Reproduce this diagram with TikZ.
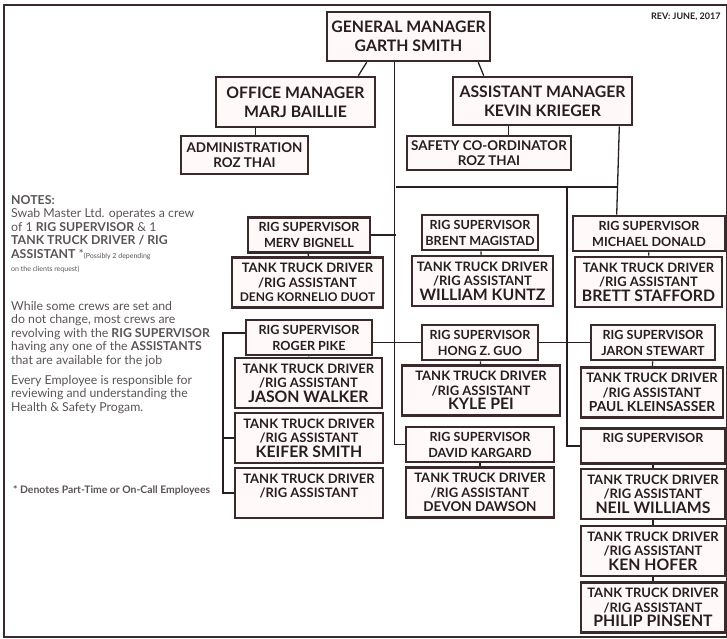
\documentclass[tikz,border=0pt]{standalone}
\usepackage{fontspec}
\setmainfont{Lato}
\usepackage{xcolor}
\usetikzlibrary{calc}
\definecolor{boxline}{RGB}{58,42,44}
\definecolor{boxfill}{RGB}{255,249,249}
\definecolor{inkdark}{RGB}{38,30,32}
\definecolor{notegray}{RGB}{90,84,84}

\begin{document}
\begin{tikzpicture}[x=1pt,y=-1pt,
		post/.style={draw=boxline, line width=2.6pt, fill=boxfill, text=inkdark, align=center, inner sep=0pt},
		topbox/.style={post, font=\bfseries\fontsize{15.8}{19}\selectfont},
		officebox/.style={post, font=\bfseries\fontsize{13.4}{15.5}\selectfont},
		supbox/.style={post, minimum height=35, font=\bfseries\fontsize{12.6}{16}\selectfont},
		crewbox/.style={post, minimum height=50, font=\bfseries\fontsize{13}{14.4}\selectfont},
		link/.style={draw=inkdark, line width=1.3pt},
		notes/.style={anchor=north west, align=left, inner sep=0pt, text=notegray, font=\fontsize{12.3}{13.5}\selectfont}]
	\useasboundingbox (0,0) rectangle (727,638);
	% Frame
	\draw[boxline, line width=1.6pt] (4,5) rectangle (727,637);
	\node[anchor=east, text=inkdark, font=\bfseries\fontsize{9}{9}\selectfont] (rev) at (724,17) {REV: JUNE, 2017};
	
	% Managers
	\node[topbox, minimum width=163, minimum height=49] (gm) at (408.5,36.5) {GENERAL MANAGER\\GARTH SMITH};
	\node[topbox, minimum width=159, minimum height=50] (om) at (295.5,102) {OFFICE MANAGER\\MARJ BAILLIE};
	\node[topbox, minimum width=179, minimum height=48] (am) at (542.5,101) {ASSISTANT MANAGER\\KEVIN KRIEGER};
	\node[officebox, minimum width=127, minimum height=38] (admin) at (244.5,155) {ADMINISTRATION\\ROZ THAI};
	\node[officebox, minimum width=164, minimum height=34] (safety) at (489,153) {SAFETY CO-ORDINATOR\\ROZ THAI};
	
	% Rig supervisors
	\foreach \id/\x/\y/\w/\who in {merv/309/235/122/MERV BIGNELL, brent/480/232.5/116/BRENT MAGISTAD,
			michael/649/233.5/152/MICHAEL DONALD, roger/309/337.5/126/ROGER PIKE, hong/480/342.5/116/HONG Z. GUO,
			jaron/653/342.5/124/JARON STEWART, david/480/444.5/148/DAVID KARGARD, rigsup/653/446/144/\mbox{}} {
		\node[supbox, minimum width=\w] (\id) at (\x,\y) {RIG SUPERVISOR\\\who};
	}
	
	% Tank truck drivers / rig assistants
	\foreach \id/\x/\y/\w/\sz/\who in {deng/307.5/282.5/151/12/DENG KORNELIO DUOT, kuntz/482.5/281/141/15.8/WILLIAM KUNTZ,
			brett/648.5/282/147/15.8/BRETT STAFFORD, jason/308.5/383/147/15.8/JASON WALKER, keifer/309/438/148/15.8/KEIFER SMITH,
			blank/309/493/148/15.8/\mbox{}, kyle/481/390.5/158/15.8/KYLE PEI, devon/480/492.5/148/13.5/DEVON DAWSON,
			paul/652/392.5/142/13.8/PAUL KLEINSASSER, neil/653/494/144/15.8/NEIL WILLIAMS, ken/653/551/144/15.8/KEN HOFER,
			philip/653/607.5/144/15.8/PHILIP PINSENT} {
		\node[crewbox, minimum width=\w] (\id) at (\x,\y) {TANK TRUCK DRIVER\\/RIG ASSISTANT\\{\fontsize{\sz}{\sz}\selectfont\who}};
	}
	
	% Crew ticks
	\foreach \a/\b in {merv/deng, brent/kuntz, michael/brett, roger/jason, hong/kyle, jaron/paul, david/devon,
			rigsup/neil, neil/ken, ken/philip} {
		\draw[link] (\a) -- (\b);
	}
	
	% Links
	\coordinate (bar west) at (396,187);
	\coordinate (bar mid) at (567,187);
	\coordinate (bar east) at (618,187);
	\coordinate (crew line) at (223,333);
	\draw[link] ($(gm.south west)+(41,0)$) -- ($(om.north east)+(-18,0)$);
	\draw[link] ($(gm.south east)+(-13,0)$) -- ($(am.north west)+(32,0)$);
	\draw[link] ($(om.south west)+(41,0)$) -- ($(admin.north west)+(76,0)$);
	\draw[link] ($(am.south west)+(57,0)$) -- ($(safety.north west)+(103,0)$);
	\draw[link] ($(gm.south west)+(69,0)$) |- (david.west);
	\draw[link] ($(am.south east)+(-14,0)$) -- ($(michael.north west)+(45,0)$);
	\draw[link] (bar west) -- (bar east);
	\draw[link] (bar mid) |- (rigsup.west);
	\draw[link] (merv.east) -- (merv.east -| bar west);
	\draw[link] (roger.east |- hong.west) -- (hong.west);
	\draw[link] (hong.east) -- (jaron.west);
	\draw[link] ($(roger.west)+(0,-4.5)$) -- (crew line) |- (blank.west);
	\draw[link] (keifer.west) -- (keifer.west -| crew line);
	
	% Notes
	\node[notes] (notes1) at (11,195) {\textbf{NOTES:}\\
		Swab Master Ltd. operates a crew\\
		of 1 \textbf{RIG SUPERVISOR} \& 1\\
		\textbf{TANK TRUCK DRIVER / RIG}\\
		\textbf{ASSISTANT} *{\fontsize{7}{7}\selectfont(Possibly 2 depending}\\
		{\fontsize{7}{7}\selectfont on the clients request)}};
	\node[notes] (notes2) at (11,301) {While some crews are set and\\
		do not change, most crews are\\
		revolving with the \textbf{RIG SUPERVISOR}\\
		having any one of the \textbf{ASSISTANTS}\\
		that are available for the job};
	\node[notes] (notes3) at (11,375) {Every Employee is responsible for\\
		reviewing and understanding the\\
		Health \& Safety Progam.};
	\node[anchor=west, inner sep=0pt, text=notegray, font=\bfseries\fontsize{10.4}{11}\selectfont] (parttime) at (13,490) {* Denotes Part-Time or On-Call Employees};
\end{tikzpicture}
\end{document}
